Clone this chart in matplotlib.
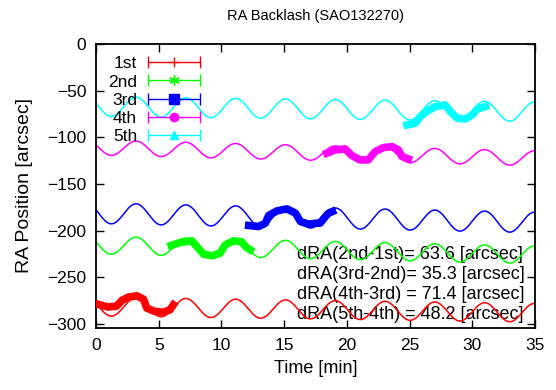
import numpy as np
import matplotlib
matplotlib.use("Agg")
import matplotlib.pyplot as plt
from matplotlib.legend_handler import HandlerErrorbar
from matplotlib.container import ErrorbarContainer

plt.rcParams['font.family'] = ['Liberation Sans', 'DejaVu Sans']

# ---- data ----
labels = ["1st", "2nd", "3rd", "4th", "5th"]
colors = ["#ff0000", "#00ff00", "#0000ff", "#ff00ff", "#00ffff"]
markers = ["+", (6, 2, 0), "s", "o", "^"]
marker_sizes = [7, 7.5, 7.5, 6, 5.5]

red_t = [0.05, 0.5, 0.98, 1.65, 2.05, 2.58, 3.25, 3.78, 4.05, 4.7, 5.38, 5.9, 6.17]
red_v = [-278.6, -280.5, -282, -281, -275, -271.4, -270, -273.6, -283.2, -286.8, -287.5, -285, -279.6]

green_t = [6.0, 6.7, 7.64, 8.04, 8.57, 9.24, 9.9, 10.3, 10.97, 11.6, 12.0, 12.3]
green_v = [-216, -212.9, -211, -217.2, -225.4, -227.1, -224.3, -215.4, -211, -212, -218.2, -220.7]

blue_t = [12.17, 12.97, 13.5, 13.76, 14.43, 15.23, 15.9, 16.3, 16.96, 17.6, 17.87, 18.13, 18.53, 18.85]
blue_v = [-194.6, -195.7, -192.1, -183.9, -178.9, -176.8, -181.4, -190.4, -193.2, -192.1, -192.1, -187.5, -181.4, -179.6]

magenta_t = [18.4, 19.06, 19.86, 20.4, 21.06, 21.7, 22.26, 22.9, 23.6, 24.1, 24.4, 24.9]
magenta_v = [-117.1, -113.6, -112.5, -119.6, -124.3, -124.3, -115.4, -111.1, -110, -113.6, -120.7, -123.2]

cyan_t = [24.8, 25.45, 25.85, 26.4, 27.05, 27.85, 28.25, 28.8, 29.45, 30.0, 30.4, 31.05]
cyan_v = [-86.8, -85, -77.9, -71.8, -67.1, -65.4, -72.5, -79.6, -80.4, -76.1, -69.6, -67.1]

# fitted model lines: offset at t=0, drift per minute, amplitude (shared period / phase)
fit_offset = [-281.5, -215.5, -181.5, -111.0, -67.0]
fit_slope = [-0.19, -0.30, -0.28, -0.33, -0.16]
fit_amp = [10.0, 9.5, 11.0, 8.0, 10.5]
fit_period = 3.97
fit_peak = 3.2

dra_texts = ["dRA(2nd-1st)= 63.6 [arcsec]",
             "dRA(3rd-2nd)= 35.3 [arcsec]",
             "dRA(4th-3rd) = 71.4 [arcsec]",
             "dRA(5th-4th) = 48.2 [arcsec]"]

xticks = [0, 5, 10, 15, 20, 25, 30, 35]
yticks = [0, -50, -100, -150, -200, -250, -300]

seg_t = [red_t, green_t, blue_t, magenta_t, cyan_t]
seg_v = [red_v, green_v, blue_v, magenta_v, cyan_v]

FS = 12.5

# ---- figure ----
fig = plt.figure(figsize=(5.56, 3.90), dpi=100)
ax = fig.add_axes([0.1727, 0.159, 0.7896, 0.7282])

tt = np.linspace(0, 35, 800)
for i in range(5):
    f = (fit_offset[i] + fit_slope[i] * tt
         + fit_amp[i] * np.cos(2 * np.pi * (tt - fit_peak) / fit_period))
    ax.plot(tt, f, color=colors[i], lw=1.1, zorder=2)

handles = []
for i in range(5):
    ax.plot(seg_t[i], seg_v[i], color=colors[i], lw=5.5, zorder=3,
            solid_capstyle='projecting', solid_joinstyle='round')
    h = ax.errorbar([np.nan], [np.nan], xerr=[1.0], ls='none',
                    marker=markers[i], color=colors[i], ms=marker_sizes[i],
                    mew=1.0, elinewidth=1.0, capsize=4, capthick=1.0,
                    label=labels[i])
    handles.append(h)

leg = ax.legend(handles=handles, loc='upper left', bbox_to_anchor=(0.0, 1.0),
                frameon=False, markerfirst=False, fontsize=FS,
                handlelength=3.05, handletextpad=0.6, labelspacing=0.18,
                borderaxespad=0.3,
                handler_map={ErrorbarContainer: HandlerErrorbar(xerr_size=1.52)})

for k, s in enumerate(dra_texts):
    ax.text(16.05, -226 - 21.3 * k, s, fontsize=13, va='center', ha='left',
            zorder=1)

ax.set_xlim(0, 35)
ax.set_ylim(-304.5, 0)
ax.set_xticks(xticks)
ax.set_yticks(yticks)
ax.tick_params(direction='in', top=True, right=True, length=6, width=1,
               labelsize=FS, pad=7)
for sp in ax.spines.values():
    sp.set_linewidth(1.3)

ax.set_title("RA Backlash (SAO132270)", fontsize=10.5, pad=17)
ax.set_xlabel("Time [min]", fontsize=13, labelpad=5)
ax.set_ylabel("RA Position [arcsec]", fontsize=14, labelpad=10)

fig.savefig("out.png", dpi=100)
